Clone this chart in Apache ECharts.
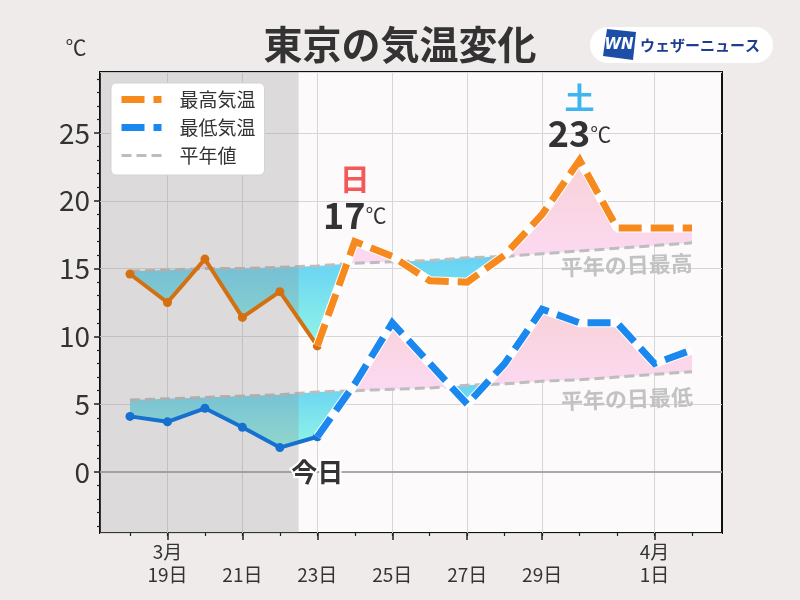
<!DOCTYPE html>
<html><head><meta charset="utf-8">
<script src="https://cdn.jsdelivr.net/npm/echarts@6/dist/echarts.min.js"></script>
<style>html,body{margin:0;padding:0;background:#efebea;}#c{width:800px;height:600px;}</style>
</head><body><div id="c"></div>
<script>
// ---- data ----
const days = [18,19,20,21,22,23,24,25,26,27,28,29,30,31,32,33]; // 3/18 .. 4/2 (32 = 4/1)
const highActual = [14.6,12.5,15.7,11.4,13.3,9.3,17.0,15.9,14.1,14.0,16.0,19.0,23.0,18.0,18.0,18.0];
const lowActual  = [4.1,3.7,4.7,3.3,1.8,2.6,6.5,11.0,8.0,5.0,8.0,12.0,11.0,11.0,8.0,9.0];
const highNormal = [14.8,14.9,15.0,15.0,15.1,15.2,15.4,15.5,15.6,15.8,15.9,16.1,16.3,16.5,16.7,16.9];
const lowNormal  = [5.3,5.4,5.5,5.6,5.7,5.9,6.0,6.1,6.2,6.4,6.5,6.7,6.8,7.0,7.2,7.4];
const todayIdx = 5;           // 3/23
const todayBoundary = 22.5;   // end of observed period shading
const tickDays = [19,21,23,25,27,29,32];
const tickLabels = ['3月\n19日','\n21日','\n23日','\n25日','\n27日','\n29日','4月\n1日'];
const yLabelValues = [0,5,10,15,20,25];
const yMinorValues = [-4,-3,-2,-1,1,2,3,4,6,7,8,9,11,12,13,14,16,17,18,19,21,22,23,24,26,27,28,29];
const notes = [{day:24, wd:'日', color:'#f25a5a'}, {day:30, wd:'土', color:'#3db5f2'}];

const FONT = '"Noto Sans CJK JP","Noto Sans",sans-serif';
const xMin = 17.2, xMax = 33.8, yMin = -4.5, yMax = 29.5;

const pts = (xs, ys) => xs.map((x,i)=>[x, ys[i]]);

function bandPolys(actual, normal){
  const p = [];
  for (let i=0;i<days.length;i++){
    if (i>0){
      const d0 = actual[i-1]-normal[i-1], d1 = actual[i]-normal[i];
      if (d0*d1 < 0){
        const t = d0/(d0-d1);
        const x = days[i-1] + t*(days[i]-days[i-1]);
        const y = normal[i-1] + t*(normal[i]-normal[i-1]);
        p.push([x,y,y]);
      }
    }
    p.push([days[i], actual[i], normal[i]]);
  }
  const lower = p.map(q=>[q[0], Math.min(q[1],q[2])]);
  const upper = p.map(q=>[q[0], Math.max(q[1],q[2])]);
  const norm  = p.map(q=>[q[0], q[2]]);
  return {
    below: lower.concat(norm.slice().reverse()),
    above: norm.concat(upper.slice().reverse())
  };
}
const hb = bandPolys(highActual, highNormal);
const lb = bandPolys(lowActual, lowNormal);

const mkCyan = () => new echarts.graphic.LinearGradient(0,0,0,1,[{offset:0,color:'#60ccf7'},{offset:1,color:'#92f5e6'}]);
const mkPink = () => new echarts.graphic.LinearGradient(0,0,0,1,[{offset:0,color:'#f8d2d8'},{offset:1,color:'#fcdaf4'}]);

function bandSeries(b, name){
  return {type:'custom', name:name, silent:true, z:2, data:[[days[0], 0]],
    renderItem:(params, api)=>({type:'group', children:[
      {type:'polygon', shape:{points:b.below.map(c=>api.coord(c))}, style:{fill:mkCyan(), stroke:null}},
      {type:'polygon', shape:{points:b.above.map(c=>api.coord(c))}, style:{fill:mkPink(), stroke:null}}
    ]})
  };
}

const highPast = pts(days.slice(0,todayIdx+1), highActual.slice(0,todayIdx+1));
const lowPast  = pts(days.slice(0,todayIdx+1), lowActual.slice(0,todayIdx+1));
const highFc = pts(days.slice(todayIdx), highActual.slice(todayIdx));
const lowFc  = pts(days.slice(todayIdx), lowActual.slice(todayIdx));

const chart = echarts.init(document.getElementById('c'));
const noteData = notes.map(n=>{
  const v = highActual[days.indexOf(n.day)];
  return {
    coord:[n.day, v],
    label:{
      formatter:`{w|${n.wd}}\n{v|${Math.round(v)}}{u|℃}`,
      rich:{
        w:{fontSize:30, fontWeight:'bold', color:n.color, lineHeight:32, fontFamily:FONT, align:'center'},
        v:{fontSize:36, fontWeight:'bold', color:'#333', lineHeight:40, fontFamily:FONT},
        u:{fontSize:21, color:'#333', lineHeight:40, fontFamily:FONT}
      }
    }
  };
});

chart.setOption({
  animation:false,
  backgroundColor:'#efebea',
  textStyle:{fontFamily:FONT},
  grid:{left:100, right:78, top:72, height:461, show:true, backgroundColor:'#fcfafb', borderColor:'#111', borderWidth:2, containLabel:false},
  legend:{
    z:20,
    data:['最高気温','最低気温','平年値'], orient:'vertical', left:111, top:83,
    itemWidth:40, itemHeight:14, itemGap:9,
    padding:[7,9,10,7], backgroundColor:'#fff', borderColor:'#d4d4d4', borderWidth:1, borderRadius:5,
    lineStyle:{width:'inherit'},
    itemStyle:{color:'transparent', borderWidth:0, opacity:0},
    textStyle:{fontSize:19, color:'#333', fontFamily:FONT, padding:[0,0,0,13]}
  },
  xAxis:[
    {type:'value', min:xMin, max:xMax, position:'bottom',
     axisLine:{show:false, onZero:false}, splitLine:{show:false},
     axisTick:{show:true, customValues:tickDays, length:7, lineStyle:{color:'#222', width:1.5}},
     axisLabel:{customValues:tickDays, formatter:v=>tickLabels[tickDays.indexOf(v)], fontSize:19, lineHeight:23, color:'#333', margin:7, fontFamily:FONT}},
    {type:'value', min:xMin, max:xMax, position:'bottom',
     axisLine:{show:false, onZero:false}, splitLine:{show:false}, axisLabel:{show:false},
     axisTick:{show:true, customValues:days, length:3, lineStyle:{color:'#222', width:1.2}}}
  ],
  yAxis:[
    {type:'value', min:yMin, max:yMax, splitNumber:7, position:'left',
     axisLine:{show:false, onZero:false}, axisTick:{show:false},
     axisLabel:{formatter:v=>(Math.abs(v%5)<1e-9 ? String(v) : ''), fontSize:28, color:'#333', margin:10, fontFamily:FONT},
     splitLine:{lineStyle:{color:'#d6d6d6', width:1}}},
    {type:'value', min:yMin, max:yMax, position:'left',
     axisLine:{show:false, onZero:false}, axisLabel:{show:false}, splitLine:{show:false},
     axisTick:{show:true, customValues:yLabelValues, length:6, lineStyle:{color:'#222', width:1.5}}},
    {type:'value', min:yMin, max:yMax, position:'left',
     axisLine:{show:false, onZero:false}, axisLabel:{show:false}, splitLine:{show:false},
     axisTick:{show:true, customValues:yMinorValues, length:3, lineStyle:{color:'#222', width:1.2}}}
  ],
  graphic:[
    {type:'text', style:{text:'東京の気温変化', x:400, y:44, align:'center', verticalAlign:'middle', fontSize:39, fontWeight:'bold', fontFamily:FONT, fill:'#333'}},
    {type:'text', style:{text:'℃', x:76, y:47, align:'center', verticalAlign:'middle', fontSize:21, fontFamily:FONT, fill:'#333'}},
    {type:'rect', shape:{x:590, y:27, width:183, height:36, r:18}, style:{fill:'#fff'}},
    {type:'polygon', shape:{points:[[607,29],[636,32],[633,60],[603,56]]}, style:{fill:'#1d4ea6'}},
    {type:'text', style:{text:'WN', x:619, y:45, align:'center', verticalAlign:'middle', fontSize:15, fontWeight:'bold', fontStyle:'italic', fontFamily:'"DejaVu Sans",sans-serif', fill:'#fff'}},
    {type:'text', style:{text:'ウェザーニュース', x:640, y:45, align:'left', verticalAlign:'middle', fontSize:15, fontWeight:'bold', fontFamily:FONT, fill:'#1c3d92'}}
  ],
  series:[
    {type:'line', name:'grid', data:pts(days, highNormal), symbol:'none', silent:true, z:1, lineStyle:{opacity:0},
     markLine:{silent:true, z:1, symbol:'none', label:{show:false},
       data:[...tickDays.map(d=>({xAxis:d, lineStyle:{color:'#d6d6d6', width:1, type:'solid'}})),
             {yAxis:0, lineStyle:{color:'#a9a9a9', width:2, type:'solid'}}]}},
    bandSeries(hb,'hband'),
    bandSeries(lb,'lband'),
    {type:'line', name:'平年値', data:pts(days, highNormal), symbol:'none', z:3, silent:true,
     lineStyle:{color:'#bdbdbd', width:3, type:[10,5]}, itemStyle:{color:'transparent'},
     markPoint:{z:3, symbol:'circle', symbolSize:1, itemStyle:{color:'transparent'}, silent:true,
       data:[{coord:[days[days.length-1], highNormal[highNormal.length-1]]}],
       label:{show:true, position:'inside', formatter:'平年の日最高', align:'right', verticalAlign:'middle', offset:[0,20], rotate:2,
              fontSize:22, fontWeight:'bold', color:'#c2c2c2', fontFamily:FONT}}},
    {type:'line', name:'平年値', data:pts(days, lowNormal), symbol:'none', z:3, silent:true,
     lineStyle:{color:'#bdbdbd', width:3, type:[10,5]}, itemStyle:{color:'transparent'},
     markPoint:{z:3, symbol:'circle', symbolSize:1, itemStyle:{color:'transparent'}, silent:true,
       data:[{coord:[days[days.length-1], lowNormal[lowNormal.length-1]]}],
       label:{show:true, position:'inside', formatter:'平年の日最低', align:'right', verticalAlign:'middle', offset:[0,25], rotate:2,
              fontSize:22, fontWeight:'bold', color:'#c2c2c2', fontFamily:FONT}}},
    {type:'line', name:'overlay', data:[], z:4, silent:true,
     markArea:{z:4, silent:true, itemStyle:{color:'rgba(140,140,140,0.29)'}, data:[[{xAxis:xMin},{xAxis:todayBoundary}]]}},
    {type:'line', name:'highPast', data:highPast, z:5, symbol:'circle', symbolSize:9, silent:true,
     lineStyle:{color:'#d4700f', width:4}, itemStyle:{color:'#d4700f'}},
    {type:'line', name:'lowPast', data:lowPast, z:5, symbol:'circle', symbolSize:9, silent:true,
     lineStyle:{color:'#1570d0', width:4}, itemStyle:{color:'#1570d0'}},
    {type:'line', name:'highUnder', data:highFc, z:6, symbol:'none', silent:true, lineStyle:{color:'#fff', width:9}},
    {type:'line', name:'lowUnder', data:lowFc, z:6, symbol:'none', silent:true, lineStyle:{color:'#fff', width:9}},
    {type:'line', name:'最低気温', data:lowFc, z:7, symbol:'none', silent:true, itemStyle:{color:'transparent'},
     lineStyle:{color:'#1a88ee', width:7, type:[23,9], cap:'butt', join:'miter'}},
    {type:'line', name:'最高気温', data:highFc, z:7, symbol:'none', silent:true, itemStyle:{color:'transparent'},
     lineStyle:{color:'#f68a1e', width:7, type:[23,9], cap:'butt', join:'miter'},
     markPoint:{z:8, symbol:'circle', symbolSize:1, itemStyle:{color:'transparent'}, silent:true,
       label:{show:true, position:'top', distance:6},
       data:[...noteData,
         {coord:[days[todayIdx], 0], label:{position:'inside', formatter:'今日', fontSize:26, fontWeight:'bold', color:'#333',
           textBorderColor:'#fff', textBorderWidth:4, fontFamily:FONT}}]}}
  ]
});
</script></body></html>
